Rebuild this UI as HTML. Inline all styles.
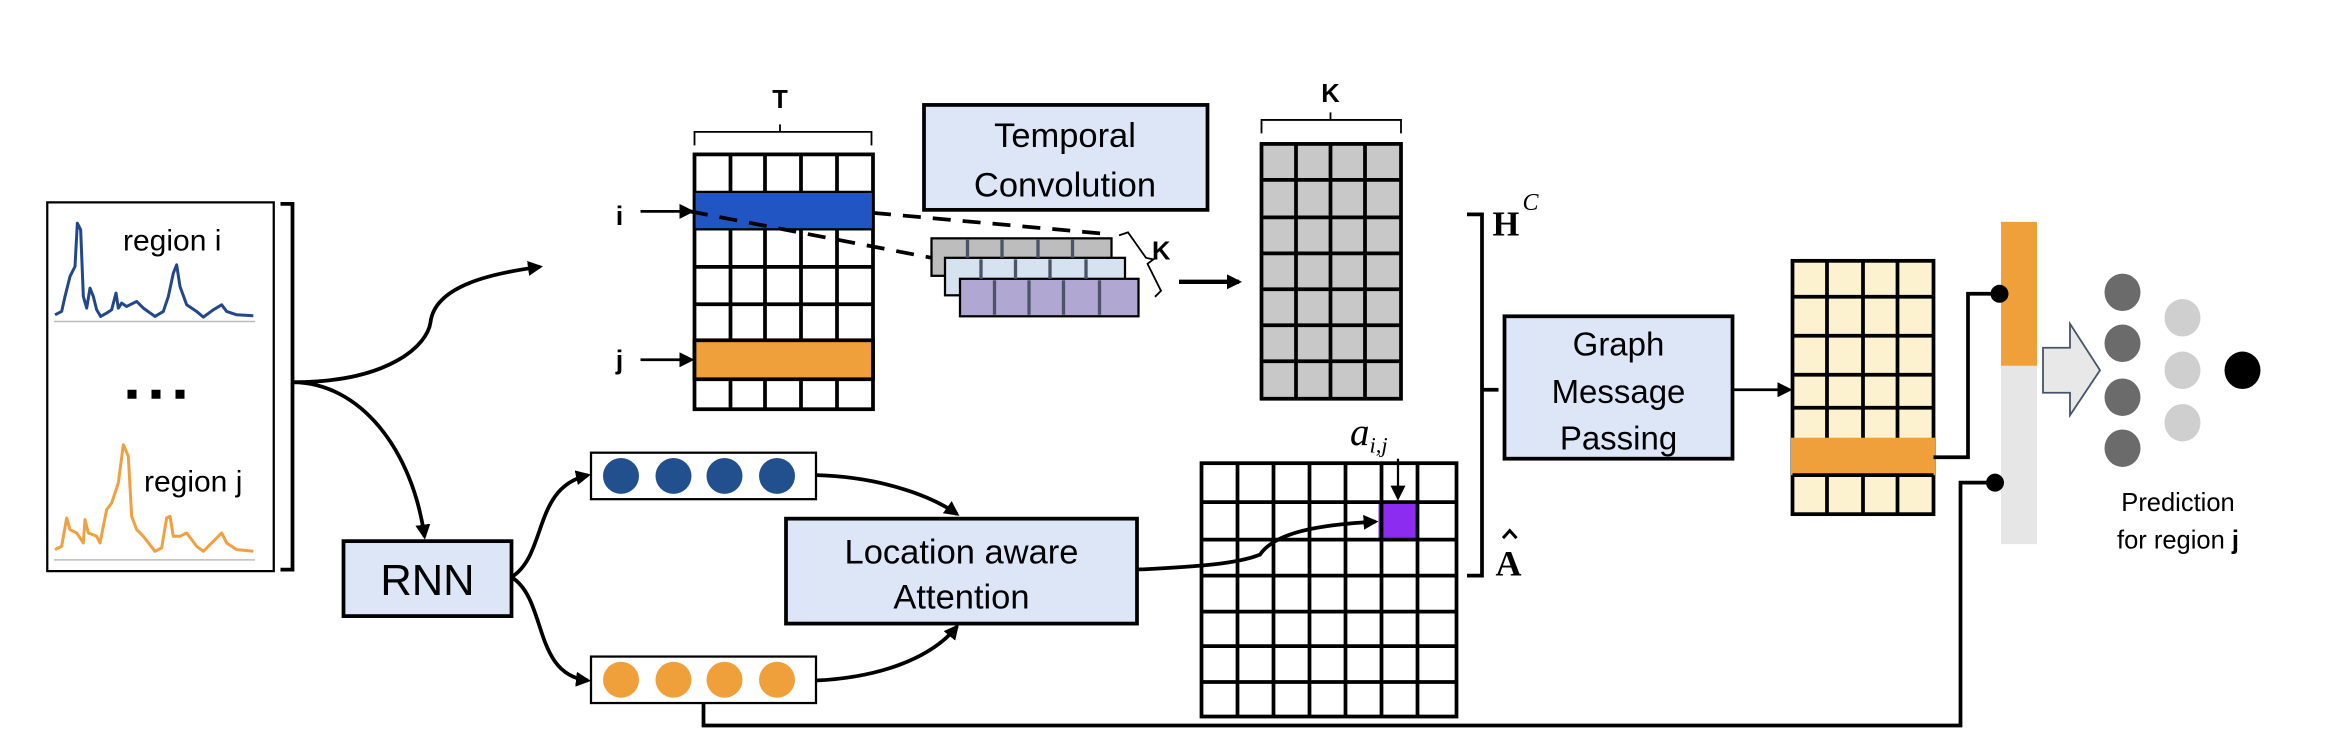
<!DOCTYPE html>
<html><head><meta charset="utf-8"><style>html,body{margin:0;padding:0;background:#fff}svg{display:block}</style></head>
<body>
<svg width="2352" height="754" viewBox="0 0 1568 503" preserveAspectRatio="none" xmlns="http://www.w3.org/2000/svg" font-family="Liberation Sans, sans-serif">
<defs>
<marker id="ah" markerWidth="10" markerHeight="10" refX="8" refY="5" orient="auto" markerUnits="userSpaceOnUse"><path d="M0,0 L10,5 L0,10 z" fill="#000"/></marker>
</defs>
<!-- left panel -->
<rect x="31.5" y="135" width="151" height="246" fill="#fff" stroke="#000" stroke-width="1.5"/>
<line x1="36" y1="214.5" x2="170" y2="214.5" stroke="#bbb" stroke-width="1"/>
<line x1="36" y1="373.5" x2="170" y2="373.5" stroke="#bbb" stroke-width="1"/>
<g transform="translate(26.67,126.67) scale(0.2222)" fill="none" stroke-width="9" stroke-linejoin="round">
<polyline stroke="#22478a" points="45,375 65,365 75,320 90,260 105,230 112,100 122,120 130,320 140,355 150,295 160,320 170,360 182,380 200,370 215,360 228,310 235,355 245,340 260,350 290,335 310,355 345,380 370,365 385,320 400,250 410,225 420,290 440,345 470,365 490,382 520,360 545,345 560,365 590,375 640,378"/>
<polyline stroke="#f0a040" points="45,1080 65,1070 80,985 90,1020 110,1030 130,1060 135,990 145,1030 170,1040 180,1060 200,960 215,940 235,880 250,765 265,800 275,980 290,1020 310,1040 345,1085 365,1075 380,985 390,980 400,1040 420,1040 440,1030 470,1070 490,1085 520,1055 545,1030 560,1060 590,1080 640,1085"/>
</g>
<text x="82" y="167" font-size="20">region i</text>
<text x="96" y="328" font-size="20">region j</text>
<rect x="85" y="260" width="6" height="6"/><rect x="101" y="260" width="6" height="6"/><rect x="117" y="260" width="6" height="6"/>
<path d="M187,136 H195 V380 H187" fill="none" stroke="#000" stroke-width="2.5"/>
<!-- branches -->
<path d="M195,255 C260,255 285,230 287,215 C290,190 330,182 360,178" fill="none" stroke="#000" stroke-width="2.5" marker-end="url(#ah)"/>
<path d="M195,255 C240,255 275,300 283,358" fill="none" stroke="#000" stroke-width="2.5" marker-end="url(#ah)"/>
<!-- RNN -->
<rect x="229" y="361" width="112" height="50" fill="#dce6f7" stroke="#000" stroke-width="2.5"/>
<text x="285" y="397" font-size="29" text-anchor="middle">RNN</text>
<path d="M341,385 C365,370 355,325 392,317" fill="none" stroke="#000" stroke-width="2.5" marker-end="url(#ah)"/>
<path d="M341,385 C365,400 355,450 392,454" fill="none" stroke="#000" stroke-width="2.5" marker-end="url(#ah)"/>
<!-- vectors -->
<rect x="394" y="302" width="150" height="31" fill="#fff" stroke="#000" stroke-width="1.5"/>
<g fill="#22508f"><ellipse cx="414" cy="317.5" rx="12" ry="12"/><ellipse cx="449" cy="317.5" rx="12" ry="12"/><ellipse cx="483" cy="317.5" rx="12" ry="12"/><ellipse cx="518" cy="317.5" rx="12" ry="12"/></g>
<rect x="394" y="438" width="150" height="31" fill="#fff" stroke="#000" stroke-width="1.5"/>
<g fill="#f0a03a"><ellipse cx="414" cy="453.5" rx="12" ry="12"/><ellipse cx="449" cy="453.5" rx="12" ry="12"/><ellipse cx="483" cy="453.5" rx="12" ry="12"/><ellipse cx="518" cy="453.5" rx="12" ry="12"/></g>
<path d="M544,317 C585,318 620,330 638,343" fill="none" stroke="#000" stroke-width="2.5" marker-end="url(#ah)"/>
<path d="M544,454 C585,452 620,440 638,418" fill="none" stroke="#000" stroke-width="2.5" marker-end="url(#ah)"/>
<!-- attention box -->
<rect x="524" y="346" width="234" height="70" fill="#dce6f7" stroke="#000" stroke-width="2.5"/>
<text x="641" y="376" font-size="23" text-anchor="middle">Location aware</text>
<text x="641" y="406" font-size="23" text-anchor="middle">Attention</text>
<!-- bottom line -->
<path d="M469,469 V484 H1307 V322 H1330" fill="none" stroke="#000" stroke-width="2.5"/>
<!-- T matrix -->
<text x="520" y="72" font-size="17" font-weight="bold" text-anchor="middle">T</text>
<path d="M463,97 V88 H520 V83 M520,88 H581 V97" fill="none" stroke="#000" stroke-width="1.2"/>
<rect x="463" y="103" width="119" height="170" fill="#fff" stroke="#000" stroke-width="2.5"/>
<g stroke="#000" stroke-width="2.5">
<line x1="487" y1="103" x2="487" y2="273"/><line x1="510" y1="103" x2="510" y2="273"/><line x1="534" y1="103" x2="534" y2="273"/><line x1="558" y1="103" x2="558" y2="273"/>
<line x1="463" y1="178" x2="582" y2="178"/><line x1="463" y1="203" x2="582" y2="203"/>
</g>
<rect x="463" y="128" width="119" height="25" fill="#2255c4" stroke="#000" stroke-width="1.5"/>
<rect x="463" y="227" width="119" height="26" fill="#f0a03a" stroke="#000" stroke-width="2.5"/>
<text x="413" y="150" font-size="18" font-weight="bold" text-anchor="middle">i</text>
<text x="413" y="246" font-size="18" font-weight="bold" text-anchor="middle">j</text>
<line x1="427" y1="141" x2="461" y2="141" stroke="#000" stroke-width="1.8" marker-end="url(#ah)"/>
<line x1="427" y1="240" x2="461" y2="240" stroke="#000" stroke-width="1.8" marker-end="url(#ah)"/>
<!-- dashed -->
<line x1="582" y1="142" x2="737" y2="156" stroke="#000" stroke-width="2.5" stroke-dasharray="12,8"/>
<line x1="460" y1="141" x2="621" y2="172" stroke="#000" stroke-width="2.5" stroke-dasharray="12,8"/>
<!-- cards -->
<g stroke="#000" stroke-width="1.5">
<rect x="621" y="159" width="120" height="25" fill="#bdbdbd"/>
<rect x="630" y="172" width="120" height="25" fill="#d5e3f0"/>
<rect x="640" y="186" width="119" height="25" fill="#b1a7d3"/>
</g>
<g stroke="#4a5568" stroke-width="2.2">
<line x1="645" y1="160" x2="645" y2="172"/><line x1="668" y1="160" x2="668" y2="172"/><line x1="692" y1="160" x2="692" y2="172"/><line x1="715" y1="160" x2="715" y2="172"/>
<line x1="654" y1="173" x2="654" y2="186"/><line x1="677" y1="173" x2="677" y2="186"/><line x1="700" y1="173" x2="700" y2="186"/><line x1="724" y1="173" x2="724" y2="186"/>
<line x1="663" y1="187" x2="663" y2="210"/><line x1="686" y1="187" x2="686" y2="210"/><line x1="709" y1="187" x2="709" y2="210"/><line x1="733" y1="187" x2="733" y2="210"/>
</g>
<polyline points="746,157 752,155 764,172 769,173 765,176 774,194 770,198" fill="none" stroke="#000" stroke-width="1.2"/>
<text x="768" y="173" font-size="17" font-weight="bold">K</text>
<line x1="786" y1="188" x2="826" y2="188" stroke="#000" stroke-width="3" marker-end="url(#ah)"/>
<!-- temporal conv -->
<rect x="616" y="70" width="189" height="70" fill="#dce6f7" stroke="#000" stroke-width="2.5"/>
<text x="710" y="98" font-size="23" text-anchor="middle">Temporal</text>
<text x="710" y="131" font-size="23" text-anchor="middle">Convolution</text>
<!-- gray K matrix -->
<text x="887" y="68" font-size="17" font-weight="bold" text-anchor="middle">K</text>
<path d="M841,89 V80 H887 V75 M887,80 H934 V89" fill="none" stroke="#000" stroke-width="1.2"/>
<rect x="841" y="96" width="93" height="170" fill="#c8c8c8" stroke="#000" stroke-width="2.5"/>
<g stroke="#000" stroke-width="2.5">
<line x1="864" y1="96" x2="864" y2="266"/><line x1="887" y1="96" x2="887" y2="266"/><line x1="910" y1="96" x2="910" y2="266"/>
<line x1="841" y1="120" x2="934" y2="120"/><line x1="841" y1="145" x2="934" y2="145"/><line x1="841" y1="169" x2="934" y2="169"/><line x1="841" y1="193" x2="934" y2="193"/><line x1="841" y1="217" x2="934" y2="217"/><line x1="841" y1="241" x2="934" y2="241"/>
</g>
<!-- H^C bracket -->
<path d="M978,143 H988 V384 H978 M988,260 H999" fill="none" stroke="#000" stroke-width="2.5"/>
<text x="995" y="157" font-size="23" font-weight="bold" font-family="Liberation Serif, serif">H</text>
<text x="1015" y="140" font-size="16" font-style="italic" font-family="Liberation Serif, serif">C</text>
<text x="997" y="384" font-size="24" font-weight="bold" font-family="Liberation Serif, serif">A</text>
<path d="M1002,359 L1006.5,354 L1011,359" fill="none" stroke="#000" stroke-width="2"/>
<!-- attention matrix -->
<rect x="801" y="309" width="170" height="169" fill="#fff" stroke="#000" stroke-width="2.5"/>
<rect x="919" y="334" width="26" height="26" fill="#8b2cf0"/>
<g stroke="#000" stroke-width="2.5">
<line x1="825" y1="309" x2="825" y2="478"/><line x1="849" y1="309" x2="849" y2="478"/><line x1="873" y1="309" x2="873" y2="478"/><line x1="897" y1="309" x2="897" y2="478"/><line x1="921" y1="309" x2="921" y2="478"/><line x1="945" y1="309" x2="945" y2="478"/>
<line x1="801" y1="335" x2="971" y2="335"/><line x1="801" y1="360" x2="971" y2="360"/><line x1="801" y1="384" x2="971" y2="384"/><line x1="801" y1="408" x2="971" y2="408"/><line x1="801" y1="431" x2="971" y2="431"/><line x1="801" y1="455" x2="971" y2="455"/>
</g>
<path d="M758,380 C800,378 825,376 840,370 C850,355 880,350 917,348" fill="none" stroke="#000" stroke-width="2.5" marker-end="url(#ah)"/>
<text x="900" y="297" font-size="26" font-style="italic" font-family="Liberation Serif, serif">a</text>
<text x="913" y="302" font-size="15" font-style="italic" font-family="Liberation Serif, serif">i,j</text>
<line x1="932" y1="306" x2="932" y2="332" stroke="#000" stroke-width="1.5" marker-end="url(#ah)"/>
<!-- graph message passing -->
<rect x="1003" y="211" width="152" height="95" fill="#dce6f7" stroke="#000" stroke-width="2.5"/>
<text x="1079" y="237" font-size="22" text-anchor="middle">Graph</text>
<text x="1079" y="269" font-size="22" text-anchor="middle">Message</text>
<text x="1079" y="300" font-size="22" text-anchor="middle">Passing</text>
<line x1="1155" y1="260" x2="1193" y2="260" stroke="#000" stroke-width="1.8" marker-end="url(#ah)"/>
<!-- yellow matrix -->
<rect x="1195" y="174" width="94" height="169" fill="#fdf2d0" stroke="#000" stroke-width="2.5"/>
<g stroke="#000" stroke-width="2.5">
<line x1="1218" y1="174" x2="1218" y2="343"/><line x1="1242" y1="174" x2="1242" y2="343"/><line x1="1265" y1="174" x2="1265" y2="343"/>
<line x1="1195" y1="198" x2="1289" y2="198"/><line x1="1195" y1="224" x2="1289" y2="224"/><line x1="1195" y1="250" x2="1289" y2="250"/><line x1="1195" y1="272" x2="1289" y2="272"/>
</g>
<rect x="1194" y="292" width="96" height="25" fill="#f0a03a"/>
<line x1="1195" y1="317" x2="1289" y2="317" stroke="#000" stroke-width="2.5"/>
<path d="M1289,305 H1312 V196 H1333" fill="none" stroke="#000" stroke-width="2.5"/>
<!-- bar -->
<rect x="1334" y="244" width="24" height="119" fill="#e6e6e6"/>
<rect x="1334" y="148" width="24" height="96" fill="#f0a03a"/>
<circle cx="1333" cy="196" r="6"/>
<circle cx="1330" cy="322" r="6"/>
<!-- hollow arrow -->
<path d="M1362,232 H1380 V216 L1400,247 L1380,277 V262 H1362 Z" fill="#e8e8e8" stroke="#44546a" stroke-width="1.2"/>
<!-- nn -->
<g fill="#6b6b6b"><ellipse cx="1415" cy="195" rx="12" ry="12.5"/><ellipse cx="1415" cy="229" rx="12" ry="12.5"/><ellipse cx="1415" cy="265" rx="12" ry="12.5"/><ellipse cx="1415" cy="299" rx="12" ry="12.5"/></g>
<g fill="#cfcfcf"><ellipse cx="1455" cy="212" rx="12" ry="12.5"/><ellipse cx="1455" cy="247" rx="12" ry="12.5"/><ellipse cx="1455" cy="282" rx="12" ry="12.5"/></g>
<ellipse cx="1495" cy="247" rx="12" ry="12.5" fill="#000"/>
<text x="1452" y="341" font-size="17" text-anchor="middle">Prediction</text>
<text x="1452" y="366" font-size="17" text-anchor="middle">for region <tspan font-weight="bold">j</tspan></text>
</svg>
</body></html>
